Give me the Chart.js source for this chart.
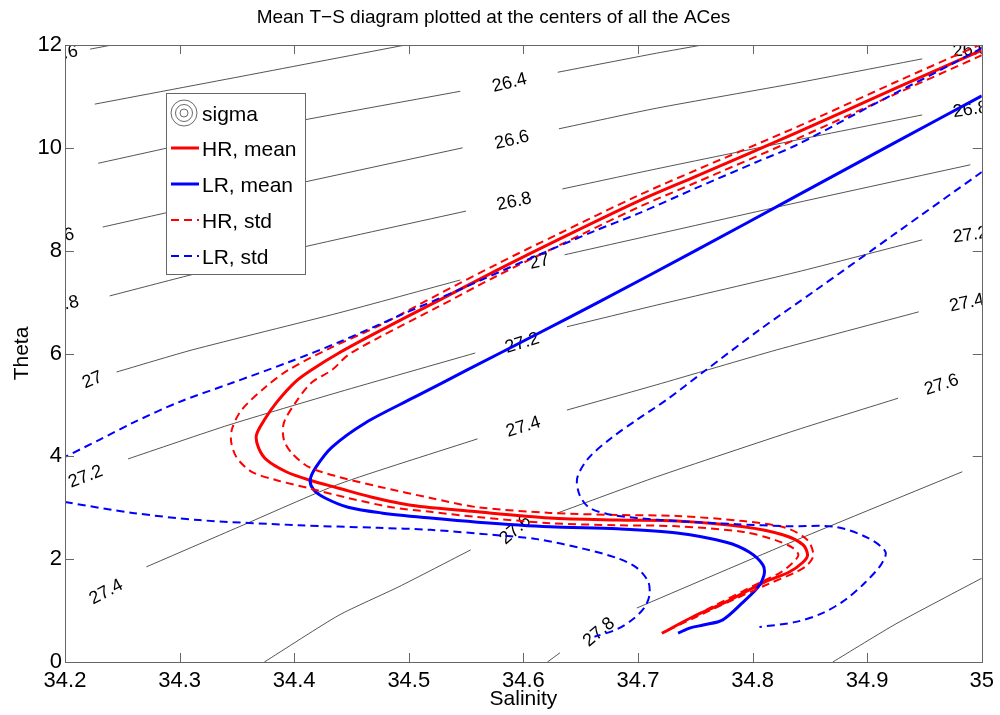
<!DOCTYPE html>
<html>
<head>
<meta charset="utf-8">
<title>Mean T-S diagram</title>
<script src="https://cdn.jsdelivr.net/npm/chart.js@4.4.1/dist/chart.umd.min.js"></script>
<style>
  html, body { margin: 0; padding: 0; background: #fff; }
</style>
</head>
<body>
<canvas id="graficoTS" width="1000" height="715"></canvas>
<script>
// Ejes
const salinityTicks = [34.2, 34.3, 34.4, 34.5, 34.6, 34.7, 34.8, 34.9, 35];
const thetaTicks = [0, 2, 4, 6, 8, 10, 12];

// HR, mean
const hrMeanS = [35.000, 34.925, 34.838, 34.751, 34.699, 34.630, 34.577, 34.525, 34.473, 34.439, 34.415, 34.401, 34.385, 34.374, 34.367, 34.369, 34.376, 34.393, 34.413, 34.439, 34.467, 34.502, 34.560, 34.623, 34.682, 34.734, 34.792, 34.827, 34.844, 34.848, 34.844, 34.832, 34.809, 34.777, 34.748, 34.721];
const hrMeanT = [11.90, 11.16, 10.29, 9.45, 8.95, 8.21, 7.62, 7.02, 6.42, 6.01, 5.68, 5.45, 5.06, 4.71, 4.41, 4.16, 3.93, 3.70, 3.54, 3.38, 3.21, 3.05, 2.92, 2.80, 2.76, 2.74, 2.63, 2.47, 2.28, 2.08, 1.94, 1.75, 1.54, 1.17, 0.88, 0.56];

// HR, std (dos curvas)
const hrStdLoS = [35.000, 34.925, 34.838, 34.751, 34.699, 34.630, 34.577, 34.525, 34.473, 34.430, 34.395, 34.375, 34.354, 34.346, 34.345, 34.350, 34.363, 34.384, 34.413, 34.447, 34.485, 34.519, 34.560, 34.623, 34.682, 34.734, 34.792, 34.820, 34.835, 34.840, 34.835, 34.825, 34.806, 34.775, 34.748, 34.721];
const hrStdLoT = [12.02, 11.28, 10.40, 9.57, 9.06, 8.32, 7.74, 7.14, 6.53, 6.09, 5.68, 5.35, 4.90, 4.55, 4.28, 3.97, 3.70, 3.54, 3.38, 3.19, 3.01, 2.92, 2.82, 2.70, 2.66, 2.64, 2.53, 2.37, 2.22, 2.08, 1.93, 1.75, 1.54, 1.19, 0.88, 0.56];
const hrStdHiS = [35.000, 34.925, 34.838, 34.751, 34.699, 34.630, 34.577, 34.525, 34.473, 34.447, 34.433, 34.415, 34.401, 34.391, 34.391, 34.398, 34.413, 34.439, 34.476, 34.519, 34.560, 34.623, 34.682, 34.734, 34.792, 34.829, 34.848, 34.853, 34.848, 34.838, 34.814, 34.781, 34.751, 34.721];
const hrStdHiT = [11.80, 11.05, 10.17, 9.33, 8.83, 8.09, 7.51, 6.90, 6.30, 5.97, 5.68, 5.43, 5.04, 4.65, 4.32, 4.06, 3.79, 3.60, 3.40, 3.19, 3.01, 2.90, 2.86, 2.84, 2.74, 2.61, 2.37, 2.08, 1.89, 1.75, 1.52, 1.19, 0.88, 0.56];

// LR, mean
const lrMeanS = [35.000, 34.925, 34.838, 34.751, 34.664, 34.612, 34.551, 34.505, 34.462, 34.433, 34.419, 34.414, 34.417, 34.427, 34.447, 34.476, 34.519, 34.560, 34.623, 34.682, 34.734, 34.777, 34.797, 34.809, 34.810, 34.805, 34.792, 34.774, 34.757, 34.745, 34.735];
const lrMeanT = [11.01, 10.11, 9.06, 8.01, 6.98, 6.38, 5.68, 5.15, 4.65, 4.18, 3.79, 3.54, 3.35, 3.19, 3.01, 2.90, 2.80, 2.72, 2.63, 2.59, 2.51, 2.33, 2.14, 1.89, 1.69, 1.46, 1.17, 0.82, 0.72, 0.66, 0.56];

// LR, std (la curva fresca sale del eje y vuelve a entrar)
const lrStdLoS = [35.000, 34.962, 34.925, 34.890, 34.838, 34.803, 34.751, 34.699, 34.664, 34.601, 34.543, 34.491, 34.439, 34.395, 34.346, 34.300, 34.259, 34.230, 34.200, null, 34.200, 34.259, 34.317, 34.404, 34.473, 34.519, 34.575, 34.612, 34.653, 34.682, 34.699, 34.709, 34.710, 34.706, 34.696, 34.682, 34.662];
const lrStdLoT = [11.94, 11.49, 11.07, 10.66, 10.05, 9.72, 9.22, 8.71, 8.40, 7.80, 7.23, 6.73, 6.22, 5.83, 5.43, 5.06, 4.65, 4.32, 3.99, null, 3.11, 2.90, 2.76, 2.66, 2.61, 2.57, 2.47, 2.39, 2.20, 2.02, 1.83, 1.56, 1.30, 1.07, 0.84, 0.64, 0.49];
const lrStdHiS = [35.000, 34.925, 34.855, 34.806, 34.757, 34.725, 34.699, 34.677, 34.657, 34.647, 34.649, 34.657, 34.673, 34.699, 34.734, 34.786, 34.832, 34.872, 34.901, 34.916, 34.912, 34.898, 34.881, 34.861, 34.838, 34.806];
const lrStdHiT = [9.53, 8.34, 7.23, 6.46, 5.64, 5.10, 4.71, 4.36, 3.97, 3.58, 3.25, 3.01, 2.88, 2.80, 2.74, 2.68, 2.64, 2.63, 2.41, 2.14, 1.89, 1.54, 1.21, 0.95, 0.78, 0.68];

// Isopicnas sigma (null = hueco de la etiqueta)
const sig260S = [34.222, 34.241];
const sig260T = [11.92, 12.00];
const sig262S = [34.226, 34.361, 34.497];
const sig262T = [10.85, 11.42, 12.00];
const sig264S = [34.229, 34.317, 34.408, 34.545, null, 34.630, 34.716, 34.756];
const sig264T = [9.70, 10.13, 10.54, 11.10, null, 11.47, 11.84, 12.00];
const sig266S = [34.233, 34.287, 34.408, 34.547, null, 34.631, 34.716, 34.838, 34.948];
const sig266T = [8.46, 8.73, 9.33, 10.00, null, 10.37, 10.77, 11.26, 11.73];
const sig268S = [34.239, 34.310, 34.408, 34.550, null, 34.634, 34.716, 34.838, 34.948];
const sig268T = [7.12, 7.53, 8.07, 8.77, null, 9.20, 9.59, 10.15, 10.64];
const sig270S = [34.245, 34.311, 34.439, 34.545, null, 34.636, 34.716, 34.838, 34.990];
const sig270T = [5.64, 6.07, 6.79, 7.43, null, 7.92, 8.32, 8.93, 9.67];
const sig272S = [34.255, 34.343, 34.439, 34.558, null, 34.638, 34.716, 34.838, 34.948];
const sig272T = [3.95, 4.61, 5.25, 6.01, null, 6.52, 6.94, 7.58, 8.21];
const sig274S = [34.271, 34.352, 34.439, 34.560, null, 34.638, 34.716, 34.821, 34.945];
const sig274T = [1.85, 2.63, 3.46, 4.34, null, 4.90, 5.39, 6.07, 6.81];
const sig276S = [34.374, 34.439, 34.491, 34.554, null, 34.630, 34.716, 34.838, 34.927];
const sig276T = [0.00, 0.91, 1.46, 2.18, null, 2.90, 3.60, 4.51, 5.13];
const sig278S = [34.621, 34.632, null, 34.699, 34.838, 34.983];
const sig278T = [0.00, 0.18, null, 1.05, 2.37, 3.70];
const sig280S = [34.870, 34.925, 35.000];
const sig280T = [0.00, 0.74, 1.63];

// Etiquetas de las isopicnas
const labelText = ['25.6', '26.6', '26.8', '27', '27.2', '27.4', '26.4', '26.6', '26.8', '27', '27.2', '27.4', '27.6', '27.8', '26.6', '26.8', '27.2', '27.4', '27.6'];
const labelS = [34.196, 34.193, 34.197, 34.224, 34.218, 34.236, 34.588, 34.590, 34.592, 34.614, 34.599, 34.600, 34.593, 34.666, 34.990, 34.990, 34.990, 34.987, 34.965];
const labelT = [11.82, 8.25, 6.94, 5.48, 3.60, 1.36, 11.26, 10.15, 8.95, 7.78, 6.20, 4.57, 2.57, 0.58, 11.90, 10.74, 8.30, 6.98, 5.39];
const labelAngle = [-10, -12, -12, -22, -21, -28, -14, -13, -12, -13, -17, -17, -41, -40, -5, -8, -8, -12, -18];

const FUENTE = '"Liberation Sans", Arial, Helvetica, sans-serif';

function puntos(S, T) {
    return S.map((s, i) => (s === null ? {x: null, y: null} : {x: s, y: T[i]}));
}

function curva(S, T, color, width, dash) {
    return {
        data: puntos(S, T),
        borderColor: color,
        borderWidth: width,
        borderDash: dash,
        showLine: true,
        pointRadius: 0,
        pointHoverRadius: 0,
        tension: 0.3,
        spanGaps: false,
        clip: 0
    };
}

const contornos = [
    [sig260S, sig260T], [sig262S, sig262T], [sig264S, sig264T], [sig266S, sig266T],
    [sig268S, sig268T], [sig270S, sig270T], [sig272S, sig272T], [sig274S, sig274T],
    [sig276S, sig276T], [sig278S, sig278T], [sig280S, sig280T]
];

// el indice 0 se dibuja encima
const datasets = [
    curva(lrStdLoS, lrStdLoT, '#0000ff', 2, [8, 5]),
    curva(lrStdHiS, lrStdHiT, '#0000ff', 2, [8, 5]),
    curva(hrStdLoS, hrStdLoT, '#ff0000', 2, [8, 5]),
    curva(hrStdHiS, hrStdHiT, '#ff0000', 2, [8, 5]),
    curva(lrMeanS, lrMeanT, '#0000ff', 3, []),
    curva(hrMeanS, hrMeanT, '#ff0000', 3, [])
];
contornos.forEach(c => {
    const d = curva(c[0], c[1], 'rgba(0,0,0,0.85)', 0.8, []);
    d.tension = 0.2;
    datasets.push(d);
});

// Etiquetas de sigma, recortadas al area del grafico
const etiquetasSigma = {
    id: 'etiquetasSigma',
    beforeDatasetsDraw(chart) {
        const {ctx, chartArea: a, scales: {x, y}} = chart;
        ctx.save();
        ctx.beginPath();
        ctx.rect(a.left, a.top, a.right - a.left, a.bottom - a.top);
        ctx.clip();
        ctx.font = '18px ' + FUENTE;
        ctx.fillStyle = '#000';
        ctx.textAlign = 'center';
        ctx.textBaseline = 'middle';
        labelText.forEach((t, i) => {
            ctx.save();
            ctx.translate(x.getPixelForValue(labelS[i]), y.getPixelForValue(labelT[i]));
            ctx.rotate(labelAngle[i] * Math.PI / 180);
            ctx.fillText(t, 0, 0);
            ctx.restore();
        });
        ctx.restore();
    }
};

// Caja y marcas hacia dentro en los cuatro lados
const marcoEjes = {
    id: 'marcoEjes',
    afterDatasetsDraw(chart) {
        const {ctx, chartArea: a, scales: {x, y}} = chart;
        const L = 9;
        ctx.save();
        ctx.strokeStyle = '#666';
        ctx.lineWidth = 1;
        ctx.beginPath();
        x.ticks.forEach(t => {
            const px = Math.round(x.getPixelForValue(t.value)) + 0.5;
            ctx.moveTo(px, a.bottom); ctx.lineTo(px, a.bottom - L);
            ctx.moveTo(px, a.top); ctx.lineTo(px, a.top + L);
        });
        y.ticks.forEach(t => {
            const py = Math.round(y.getPixelForValue(t.value)) + 0.5;
            ctx.moveTo(a.left, py); ctx.lineTo(a.left + L, py);
            ctx.moveTo(a.right, py); ctx.lineTo(a.right - L, py);
        });
        ctx.stroke();
        ctx.strokeRect(Math.round(a.left) + 0.5, Math.round(a.top) + 0.5,
            Math.round(a.right - a.left), Math.round(a.bottom - a.top));
        ctx.restore();
    }
};

// Leyenda dentro del grafico
const leyenda = {
    id: 'leyenda',
    afterDraw(chart) {
        const ctx = chart.ctx;
        const ds = chart.data.datasets;
        const items = [['HR, mean', ds[5]], ['LR, mean', ds[4]], ['HR, std', ds[2]], ['LR, std', ds[0]]];
        ctx.save();
        ctx.fillStyle = '#fff';
        ctx.fillRect(166, 93, 139, 181);
        ctx.strokeStyle = '#666';
        ctx.lineWidth = 1;
        ctx.strokeRect(166.5, 93.5, 139, 181);

        ctx.strokeStyle = '#444';
        ctx.lineWidth = 0.8;
        [4, 8.5, 13].forEach(r => {
            ctx.beginPath();
            ctx.arc(184, 113, r, 0, 2 * Math.PI);
            ctx.stroke();
        });
        ctx.font = '21px ' + FUENTE;
        ctx.fillStyle = '#000';
        ctx.textBaseline = 'alphabetic';
        ctx.fillText('sigma', 202, 121);

        items.forEach((it, i) => {
            const yy = 148 + i * 36;
            ctx.strokeStyle = it[1].borderColor;
            ctx.lineWidth = it[1].borderWidth;
            ctx.setLineDash(it[1].borderDash);
            ctx.beginPath();
            ctx.moveTo(171, yy);
            ctx.lineTo(199, yy);
            ctx.stroke();
            ctx.setLineDash([]);
            ctx.fillText(it[0], 202, yy + 8);
        });
        ctx.restore();
    }
};

const ctxTS = document.getElementById('graficoTS').getContext('2d');
new Chart(ctxTS, {
    type: 'scatter',
    data: { datasets: datasets },
    options: {
        responsive: false,
        animation: false,
        devicePixelRatio: 1,
        layout: { padding: { left: 0, right: 13, top: 0, bottom: 0 } },
        plugins: {
            legend: { display: false },
            tooltip: { enabled: false },
            title: {
                display: true,
                text: 'Mean T\u2212S diagram plotted at the centers of all the ACes',
                color: '#000',
                font: { family: FUENTE, size: 19, weight: 'normal' },
                padding: { top: 6, bottom: 16.2 }
            }
        },
        scales: {
            x: {
                type: 'linear',
                min: 34.2,
                max: 35,
                afterBuildTicks: s => { s.ticks = salinityTicks.map(v => ({ value: v })); },
                afterFit: s => { s.height = 53; },
                grid: { display: false, drawTicks: false },
                border: { display: false },
                ticks: {
                    color: '#000',
                    font: { family: FUENTE, size: 22 },
                    padding: 6,
                    maxRotation: 0,
                    autoSkip: false,
                    callback: v => String(v)
                },
                title: {
                    display: true,
                    text: 'Salinity',
                    color: '#000',
                    font: { family: FUENTE, size: 21 },
                    padding: { top: 0, bottom: 3 }
                }
            },
            y: {
                type: 'linear',
                min: 0,
                max: 12,
                afterBuildTicks: s => { s.ticks = thetaTicks.map(v => ({ value: v })); },
                afterFit: s => { s.width = 65; },
                grid: { display: false, drawTicks: false },
                border: { display: false },
                ticks: {
                    color: '#000',
                    font: { family: FUENTE, size: 22 },
                    padding: 3,
                    autoSkip: false,
                    callback: v => String(v)
                },
                title: {
                    display: true,
                    text: 'Theta',
                    color: '#000',
                    font: { family: FUENTE, size: 21 },
                    padding: { top: 10, bottom: 0 }
                }
            }
        }
    },
    plugins: [etiquetasSigma, marcoEjes, leyenda]
});
</script>
</body>
</html>
